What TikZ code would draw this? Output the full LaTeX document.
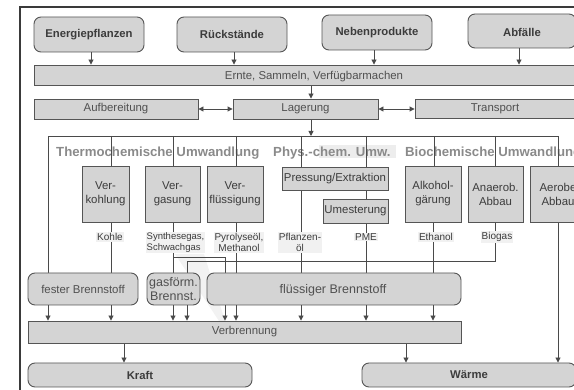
\documentclass[tikz,border=0pt]{standalone}
\usepackage{fontspec}
\setmainfont{Liberation Sans}
\usetikzlibrary{arrows.meta,calc}

\definecolor{boxfill}{HTML}{D4D4D4}
\definecolor{edge}{HTML}{555555}
\definecolor{wire}{HTML}{4A4A4A}
\definecolor{ink}{HTML}{3C3C3C}
\definecolor{soft}{HTML}{505050}
\definecolor{heading}{HTML}{8A8A8A}
\definecolor{patch}{HTML}{F1F1F1}
\definecolor{frame}{HTML}{3A3A3A}

\pgfdeclarelayer{under}
\pgfdeclarelayer{wires}
\pgfsetlayers{under,wires,main}

\begin{document}
\begin{tikzpicture}[x=1pt,y=-1pt,
  boxbase/.style={draw=edge,fill=boxfill,line width=0.9pt,inner sep=0pt,
    text=ink,align=center,font=\fontsize{11.4}{14}\selectfont},
  rbox/.style={boxbase,rounded corners=7pt},
  sbox/.style={boxbase},
  bold/.style={font=\fontsize{11.3}{13}\selectfont\bfseries},
  plain/.style={text=soft},
  lab/.style={fill=patch,inner sep=1pt,text=ink,align=center,
    font=\fontsize{10}{11}\selectfont},
  head/.style={anchor=west,inner sep=0pt,text=heading,
    font=\fontsize{13.2}{15}\selectfont\bfseries},
  wireline/.style={draw=wire,line width=0.9pt},
  arr/.style={wireline,-{Triangle[length=5pt,width=5pt]}},
  darr/.style={wireline,{Triangle[length=5pt,width=5pt]}-{Triangle[length=5pt,width=5pt]}}
]
\useasboundingbox (0,0) rectangle (574,390);
\clip (0,0) rectangle (574,390);

% sources
\node[rbox,bold,minimum width=110pt,minimum height=35pt] (ep) at (89,34.5) {Energiepflanzen};
\node[rbox,bold,minimum width=110pt,minimum height=35pt] (rs) at (232,34.5) {Rückstände};
\node[rbox,bold,minimum width=110pt,minimum height=35pt] (nb) at (377,32.5) {Nebenprodukte};
\node[rbox,minimum width=108pt,minimum height=34pt] (ab) at (522,31) {};
\node[bold,inner sep=0pt,text=ink] (abt) at (522,32) {Abfälle};

% logistics
\node[sbox,minimum width=542pt,minimum height=20pt] (er) at (305,75) {};
\node[inner sep=0pt,text=soft,font=\fontsize{11.4}{14}\selectfont] (ert) at (314,76.5) {Ernte, Sammeln, Verfügbarmachen};
\node[sbox,plain,minimum width=164pt,minimum height=20pt] (au) at (116,109) {Aufbereitung};
\node[sbox,plain,minimum width=145pt,minimum height=20pt] (lg) at (305.5,109) {Lagerung};
\node[sbox,plain,minimum width=160pt,minimum height=19pt] (tr) at (495,108.5) {Transport};

% conversion processes
\node[sbox,minimum width=47pt,minimum height=56pt] (vk) at (105.5,194) {Ver-\\kohlung};
\node[sbox,minimum width=55pt,minimum height=56pt] (vg) at (172.5,194) {Ver-\\gasung};
\node[sbox,minimum width=56pt,minimum height=56pt] (vf) at (235,194) {Ver-\\flüssigung};
\node[sbox,minimum width=106pt,minimum height=23pt] (pe) at (335,178.5) {Pressung/Extraktion};
\node[sbox,minimum width=65pt,minimum height=24pt] (um) at (355.5,211) {Umesterung};
\node[sbox,minimum width=56pt,minimum height=56pt] (ag) at (433,194) {Alkohol-\\gärung};
\node[sbox,minimum width=55pt,minimum height=56pt] (an) at (495.5,194) {Anaerob.\\Abbau};
\node[sbox,minimum width=56pt,minimum height=56pt] (ae) at (558,194) {Aerobe\\Abbau};

% intermediate products
\node[lab] (kohle) at (110,237) {Kohle};
\node[lab,font=\fontsize{9.5}{11}\selectfont,align=left] (syn) at (175.5,242.5) {Synthesegas,\\Schwachgas};
\node[lab] (pyr) at (239,242.5) {Pyrolyseöl,\\Methanol};
\node[lab] (poel) at (300,242.5) {Pflanzen-\\öl};
\node[lab] (pme) at (366,237) {PME};
\node[lab] (eth) at (436,237) {Ethanol};
\node[lab] (bio) at (497,237) {Biogas};

% fuels
\node[rbox,plain,minimum width=110pt,minimum height=32pt] (fb) at (83,289) {fester Brennstoff};
\node[rbox,plain,minimum width=53pt,minimum height=32pt,font=\fontsize{12.5}{14.5}\selectfont] (gb) at (173.5,289) {gasförm.\\Brennst.};
\node[rbox,minimum width=254pt,minimum height=32pt] (lb) at (334,289) {};
\node[inner sep=0pt,text=soft,font=\fontsize{12.5}{14.5}\selectfont] (lbt) at (333,290) {flüssiger Brennstoff};

% use
\node[sbox,plain,minimum width=433pt,minimum height=22pt] (vb) at (244.5,332) {Verbrennung};
\node[rbox,bold,minimum width=224pt,minimum height=24pt] (kr) at (140,375) {Kraft};
\node[rbox,bold,minimum width=214pt,minimum height=24pt] (wa) at (469,375) {Wärme};

\begin{pgfonlayer}{under}
  \draw[draw=frame,line width=1.2pt] (20,7) rectangle (640,440);
  \fill[black!7] (319,145) rectangle (396,158);
  % faint band behind the gaseous fuel box
  \fill[black!5] (175,254) -- (204,254) -- (225,321) -- (219,321) -- cycle;
  \node[head] (h1) at (56,153) {Thermochemische Umwandlung};
  \node[head] (h2) at (273,153) {Phys.-chem. Umw.};
  \node[head] (h3) at (405,153) {Biochemische Umwandlung};
\end{pgfonlayer}

\begin{pgfonlayer}{wires}
  % feed into logistics
  \draw[arr] (91,0 |- ep.south) -- (91,0 |- er.north);
  \draw[arr] (234,0 |- rs.south) -- (234,0 |- er.north);
  \draw[arr] (374,0 |- nb.south) -- (374,0 |- er.north);
  \draw[arr] (519,0 |- ab.south) -- (519,0 |- er.north);
  \draw[arr] (311,0 |- er.south) -- (311,0 |- lg.north);
  \draw[darr] (au.east) -- (au.east -| lg.west);
  \draw[darr] (lg.east) -- (lg.east -| tr.west);

  % distribution frame
  \coordinate (fl) at (48,136);
  \coordinate (fr) at (558,136);
  \draw[arr] (311,0 |- lg.south) -- (311,0 |- fl);
  \draw[arr] (48,0 |- fb.north) -- (fl) -- (fr) -- (558,0 |- wa.north);
  \foreach \x/\n in {111/vk,173/vg,236/vf,301/pe,366/pe,434/ag,495/an}
    \draw[wireline] (\x,0 |- fl) -- (\x,0 |- \n.north);

  % product lines
  \draw[wireline] (111,0 |- vk.south) -- (111,0 |- fb.north);
  \draw[wireline] (173,0 |- vg.south) -- (173,0 |- gb.north);
  \draw[wireline] (173,257) -- (225,257) -- (225,0 |- lb.north);
  \draw[wireline] (236,0 |- vf.south) -- (236,0 |- lb.north);
  \draw[wireline] (301,0 |- pe.south) -- (301,0 |- lb.north);
  \draw[wireline] (366,0 |- pe.south) -- (366,0 |- um.north);
  \draw[wireline] (366,0 |- um.south) -- (366,0 |- lb.north);
  \draw[wireline] (433,0 |- ag.south) -- (433,0 |- lb.north);
  \draw[wireline] (495,0 |- an.south) -- (495,261) -- (187,261) -- (187,0 |- gb.north);

  % into combustion
  \foreach \x in {48,111}
    \draw[arr] (\x,0 |- fb.south) -- (\x,0 |- vb.north);
  \foreach \x in {173,187}
    \draw[arr] (\x,0 |- gb.south) -- (\x,0 |- vb.north);
  \foreach \x in {225,236,301,366,433}
    \draw[arr] (\x,0 |- lb.south) -- (\x,0 |- vb.north);

  % end use
  \draw[arr] (124,0 |- vb.south) -- (124,0 |- kr.north);
  \draw[arr] (406,0 |- vb.south) -- (406,0 |- wa.north);
\end{pgfonlayer}
\end{tikzpicture}
\end{document}
